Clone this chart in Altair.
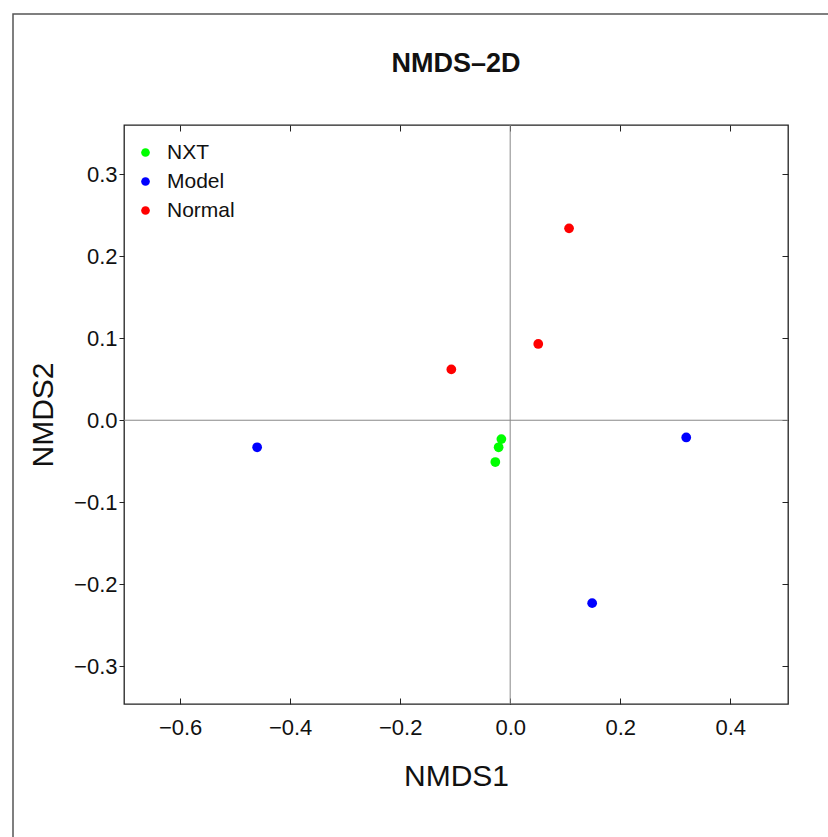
import altair as alt
import pandas as pd

# ---- data ----
groups = ["NXT", "NXT", "NXT", "Model", "Model", "Model", "Normal", "Normal", "Normal"]
nmds1 = [-0.016, -0.021, -0.027, -0.460, 0.320, 0.149, 0.107, 0.051, -0.107]
nmds2 = [-0.023, -0.033, -0.051, -0.033, -0.021, -0.223, 0.234, 0.093, 0.062]
group_order = ["NXT", "Model", "Normal"]
group_colors = ["#00FF00", "#0000FF", "#FF0000"]
x_ticks = [-0.6, -0.4, -0.2, 0.0, 0.2, 0.4]
y_ticks = [-0.3, -0.2, -0.1, 0.0, 0.1, 0.2, 0.3]
x_domain = [-0.702, 0.505]
y_domain = [-0.346, 0.360]
zero_line = [0.0]

df = pd.DataFrame({"NMDS1": nmds1, "NMDS2": nmds2, "group": groups})
zdf = pd.DataFrame({"v": zero_line})

W, H = 664, 579
FONT = "Liberation Sans"
TXT = "#111111"
FRAME_TOP = -111  # outer page frame, relative to plot top

xs = alt.Scale(domain=x_domain, nice=False, zero=False)
ys = alt.Scale(domain=y_domain, nice=False, zero=False)

base = alt.Chart(df)

# outer page frame (decorative)
frame = alt.Chart(pd.DataFrame({"k": [0]})).mark_rect(
    fill=None, stroke="#555555", strokeWidth=1.5
).encode(
    x=alt.value(-111), x2=alt.value(W + 200),
    y=alt.value(FRAME_TOP), y2=alt.value(H + 200),
)

vline = alt.Chart(zdf).mark_rule(color="#888888", strokeWidth=1).encode(
    x=alt.X("v:Q", scale=xs, axis=None)
)
hline = alt.Chart(zdf).mark_rule(color="#888888", strokeWidth=1).encode(
    y=alt.Y("v:Q", scale=ys, axis=None)
)

points = base.mark_circle(size=95, opacity=1).encode(
    x=alt.X("NMDS1:Q", scale=xs, axis=alt.Axis(
        orient="bottom", values=x_ticks, format=".1f", ticks=False, domain=False,
        grid=False, labelPadding=13, labelFontSize=22, labelColor=TXT,
        title="NMDS1", titleFontSize=30, titleFontWeight="normal",
        titlePadding=23, titleColor=TXT)),
    y=alt.Y("NMDS2:Q", scale=ys, axis=alt.Axis(
        orient="left", values=y_ticks, format=".1f", tickSize=5, domain=False,
        grid=False, labelPadding=2, labelFontSize=22, labelColor=TXT,
        tickColor="#222222", title="NMDS2", titleFontSize=30,
        titleFontWeight="normal", titlePadding=15, titleColor=TXT)),
    color=alt.Color("group:N", scale=alt.Scale(domain=group_order, range=group_colors),
                    legend=alt.Legend(orient="none", legendX=11, legendY=17, title=None,
                                      symbolType="circle", symbolSize=75,
                                      symbolStrokeWidth=0, labelFontSize=21,
                                      labelOffset=11, rowPadding=7, padding=0,
                                      labelColor=TXT)),
)

# inward ticks on bottom, top and right edges
tick_bottom = base.mark_circle(opacity=0).encode(
    x=alt.X("NMDS1:Q", scale=xs, axis=alt.Axis(
        orient="top", offset=-H, values=x_ticks, labels=False, domain=False,
        grid=False, tickSize=6, tickColor="#222222", title=None)),
    y=alt.Y("NMDS2:Q", scale=ys, axis=None),
)
tick_top = base.mark_circle(opacity=0).encode(
    x=alt.X("NMDS1:Q", scale=xs, axis=alt.Axis(
        orient="bottom", offset=-H, values=x_ticks, labels=False, domain=False,
        grid=False, tickSize=6, tickColor="#222222", title=None)),
    y=alt.Y("NMDS2:Q", scale=ys, axis=None),
)
tick_right = base.mark_circle(opacity=0).encode(
    x=alt.X("NMDS1:Q", scale=xs, axis=None),
    y=alt.Y("NMDS2:Q", scale=ys, axis=alt.Axis(
        orient="left", offset=-W, values=y_ticks, labels=False, domain=False,
        grid=False, tickSize=6, tickColor="#222222", title=None)),
)

# title is offset from the chart bounds, whose top is the outer frame
chart = alt.layer(frame, vline, hline, tick_bottom, tick_top, tick_right, points).resolve_axis(
    x="independent", y="independent"
).properties(
    width=W, height=H,
    title=alt.TitleParams("NMDS\u20132D", fontSize=27, fontWeight="bold",
                          anchor="middle", offset=FRAME_TOP + 46, frame="group",
                          font=FONT, color=TXT),
    autosize=alt.AutoSizeParams(type="none"),
    padding={"left": 124, "top": 125, "right": 40, "bottom": 133},
).configure(font=FONT).configure_view(
    stroke="#222222", strokeWidth=1.3
).configure_axis(labelFont=FONT, titleFont=FONT).configure_legend(labelFont=FONT)

chart.save("out.html", embed_options={"renderer": "svg", "actions": False})
